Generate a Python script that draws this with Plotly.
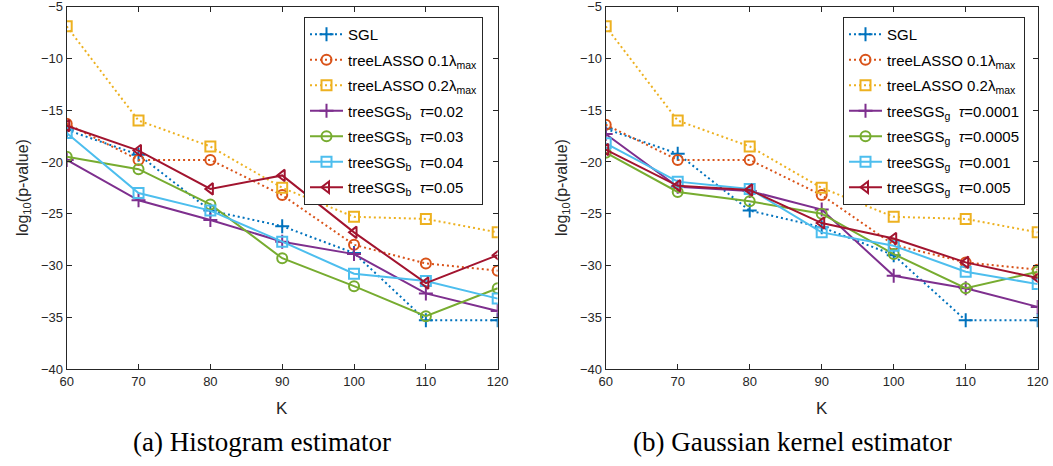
import plotly.graph_objects as go

K = [60, 70, 80, 90, 100, 110, 120]

# (a) Histogram estimator
a_sgl   = [-16.9, -19.3, -24.7, -26.2, -28.8, -35.3, -35.3]
a_tl01  = [-16.3, -19.8, -19.8, -23.2, -28.0, -29.8, -30.5]
a_tl02  = [-6.9, -16.0, -18.5, -22.5, -25.3, -25.5, -26.8]
a_t002  = [-19.8, -23.7, -25.6, -27.7, -28.9, -32.7, -34.4]
a_t003  = [-19.5, -20.7, -24.1, -29.3, -32.0, -34.9, -32.2]
a_t004  = [-17.2, -23.0, -24.7, -27.7, -30.8, -31.5, -33.2]
a_t005  = [-16.5, -18.9, -22.6, -21.3, -26.8, -31.7, -29.0]

# (b) Gaussian kernel estimator
b_sgl   = [-16.8, -19.2, -24.7, -26.3, -29.0, -35.3, -35.3]
b_tl01  = [-16.4, -19.8, -19.8, -23.2, -28.0, -29.7, -30.4]
b_tl02  = [-6.9, -16.0, -18.5, -22.5, -25.3, -25.5, -26.8]
b_t1    = [-17.3, -22.4, -22.8, -24.6, -31.0, -32.2, -34.0]
b_t5    = [-19.1, -22.9, -23.8, -25.0, -28.9, -32.2, -30.6]
b_t10   = [-18.2, -21.9, -22.6, -26.8, -28.1, -30.6, -31.8]
b_t50   = [-18.8, -22.3, -22.7, -25.9, -27.4, -29.7, -31.2]

names_a = ["SGL", "treeLASSO 0.1λ<sub>max</sub>", "treeLASSO 0.2λ<sub>max</sub>",
           "treeSGS<sub>b</sub>\u00a0 <i>τ</i>=0.02", "treeSGS<sub>b</sub>\u00a0 <i>τ</i>=0.03",
           "treeSGS<sub>b</sub>\u00a0 <i>τ</i>=0.04", "treeSGS<sub>b</sub>\u00a0 <i>τ</i>=0.05"]
names_b = ["SGL", "treeLASSO 0.1λ<sub>max</sub>", "treeLASSO 0.2λ<sub>max</sub>",
           "treeSGS<sub>g</sub>\u00a0 <i>τ</i>=0.0001", "treeSGS<sub>g</sub>\u00a0 <i>τ</i>=0.0005",
           "treeSGS<sub>g</sub>\u00a0 <i>τ</i>=0.001", "treeSGS<sub>g</sub>\u00a0 <i>τ</i>=0.005"]

colors = ["#0072BD", "#D95319", "#EDB120", "#7E2F8E", "#77AC30", "#4DBEEE", "#A2142F"]
symbols = ["cross-thin-open", "circle-open", "square-open", "cross-thin-open",
           "circle-open", "square-open", "triangle-left-open"]
dashes = ["2px,3px", "2px,3px", "2px,3px", "solid", "solid", "solid", "solid"]

fig = go.Figure()
for tag, series, names, xa, ya, lg in [
    ("a", [a_sgl, a_tl01, a_tl02, a_t002, a_t003, a_t004, a_t005], names_a, "x", "y", "legend"),
    ("b", [b_sgl, b_tl01, b_tl02, b_t1, b_t5, b_t10, b_t50], names_b, "x2", "y2", "legend2"),
]:
    for i, ys in enumerate(series):
        fig.add_trace(go.Scatter(
            x=K, y=ys, name=names[i], mode="lines+markers",
            xaxis=xa, yaxis=ya, legend=lg, legendgroup=f"{tag}{i}",
            line=dict(color=colors[i], width=2, dash=dashes[i]),
            marker=dict(symbol=symbols[i], size=10, color=colors[i],
                        line=dict(color=colors[i], width=2)),
        ))

W, H = 1053, 466
ax_col = "#262626"
sans = "Liberation Sans, Arial, sans-serif"
tickfont = dict(family=sans, size=13, color=ax_col)

def xax(dom, anchor):
    return dict(domain=dom, range=[60, 120], tickvals=K, ticks="inside", ticklen=5,
                showline=True, linecolor=ax_col, linewidth=1, mirror="allticks",
                showgrid=False, zeroline=False, tickfont=tickfont, tickcolor=ax_col,
                ticklabeloverflow="allow", anchor=anchor, automargin=False)

def yax(anchor):
    return dict(domain=[1 - 369.0 / H, 1 - 6.7 / H], range=[-40, -5],
                tickvals=[-40, -35, -30, -25, -20, -15, -10, -5], ticks="inside",
                ticklen=5, showline=True, linecolor=ax_col, linewidth=1,
                mirror="allticks", showgrid=False, zeroline=False, tickfont=tickfont,
                tickcolor=ax_col, anchor=anchor, ticklabeloverflow="allow", automargin=False)

legend_style = dict(bgcolor="white", bordercolor=ax_col, borderwidth=1,
                    font=dict(family=sans, size=15, color="black"),
                    xanchor="left", yanchor="top", itemwidth=33, tracegroupgap=3,
                    traceorder="grouped")

annotations = []
for cx, lx in [(282, 24), (821.7, 563)]:
    annotations.append(dict(x=cx / W, y=1 - 408 / H, xref="paper", yref="paper", text="K",
                            showarrow=False, font=dict(family=sans, size=17, color=ax_col),
                            xanchor="center", yanchor="middle"))
    annotations.append(dict(x=lx / W, y=1 - 188 / H, xref="paper", yref="paper",
                            text="log<sub>10</sub>(p-value)", textangle=-90, showarrow=False,
                            font=dict(family=sans, size=16, color=ax_col),
                            xanchor="center", yanchor="middle"))
annotations.append(dict(x=262 / W, y=1 - 442 / H, xref="paper", yref="paper", text="(a) Histogram estimator",
                        showarrow=False, font=dict(family="Liberation Serif, serif", size=27, color="black"),
                        xanchor="center", yanchor="middle"))
annotations.append(dict(x=792 / W, y=1 - 442 / H, xref="paper", yref="paper", text="(b) Gaussian kernel estimator",
                        showarrow=False, font=dict(family="Liberation Serif, serif", size=27, color="black"),
                        xanchor="center", yanchor="middle"))

fig.update_layout(
    width=W, height=H, margin=dict(l=0, r=0, t=0, b=0, autoexpand=False),
    paper_bgcolor="white", plot_bgcolor="white",
    xaxis=xax([66.7 / W, 497.7 / W], "y"), yaxis=yax("x"),
    xaxis2=xax([605.7 / W, 1037.7 / W], "y2"), yaxis2=yax("x2"),
    legend=dict(legend_style, x=304 / W, y=1 - 17 / H),
    legend2=dict(legend_style, x=843 / W, y=1 - 17 / H),
    annotations=annotations, showlegend=True,
)

fig.write_html("out.html", config={"displayModeBar": False},
               post_script="document.body.style.margin='0px';document.body.style.overflow='hidden';")
